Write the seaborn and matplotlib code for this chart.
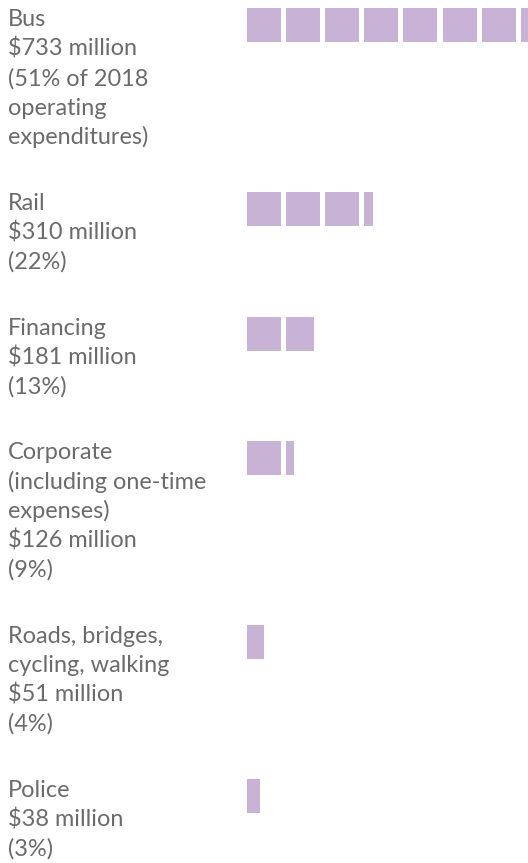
import matplotlib
matplotlib.use("Agg")
import matplotlib.pyplot as plt
import seaborn as sns
import numpy as np
import pandas as pd

# ---- data ----
categories = ["Bus", "Rail", "Financing", "Corporate", "Roads, bridges, cycling, walking", "Police"]
amounts = [733, 310, 181, 126, 51, 38]          # $ million
shares = [51, 22, 13, 9, 4, 3]                  # % of 2018 operating expenditures
squares = [7.33, 3.26, 1.82, 1.24, 0.50, 0.38]  # filled squares as drawn (1 square ~ $100M)
label_lines = [
    ["Bus", "$733 million", "(51% of 2018", "operating", "expenditures)"],
    ["Rail", "$310 million", "(22%)"],
    ["Financing", "$181 million", "(13%)"],
    ["Corporate", "(including one-time", "expenses)", "$126 million", "(9%)"],
    ["Roads, bridges,", "cycling, walking", "$51 million", "(4%)"],
    ["Police", "$38 million", "(3%)"],
]

# ---- style / layout ----
sns.set_theme(style="white")
plt.rcParams["font.family"] = ["Lato", "DejaVu Sans"]

W, H = 528, 863
SQ_COLOR = "#c8b3d6"
TXT_COLOR = "#6b6b6b"
X0, PITCH, SIZE = 247, 39.1, 34
TOP0, LINE_H, GAP = 8.5, 29.5, 36
TEXT_X = 8

fig = plt.figure(figsize=(W / 100, H / 100), dpi=100)
ax = fig.add_axes([0, 0, 1, 1])
ax.set_xlim(0, W)
ax.set_ylim(H, 0)
ax.axis("off")

# build segment table
rows = []
tops = []
top = TOP0
for cat, n, lines in zip(categories, squares, label_lines):
    tops.append(top)
    for k in range(int(np.ceil(n))):
        frac = min(1.0, n - k)
        rows.append({"category": cat, "block": k, "frac": frac, "top": top})
    top += len(lines) * LINE_H + GAP
seg = pd.DataFrame(rows)

ax.barh(
    y=seg["top"],
    width=seg["frac"] * SIZE,
    left=X0 + seg["block"] * PITCH,
    height=SIZE,
    align="edge",
    color=SQ_COLOR,
    linewidth=0,
)

for t, lines in zip(tops, label_lines):
    for i, line in enumerate(lines):
        ax.text(TEXT_X, t + 18 + i * LINE_H, line, fontsize=16.9,
                color=TXT_COLOR, va="baseline", ha="left")

fig.savefig("out.png", dpi=100)
